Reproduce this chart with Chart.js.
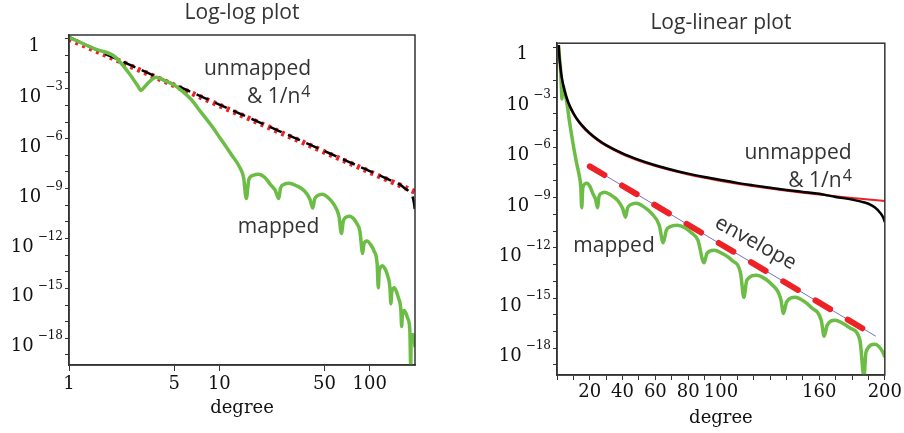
<!DOCTYPE html>
<html>
<head>
<meta charset="utf-8">
<script src="https://cdn.jsdelivr.net/npm/chart.js@4.4.1/dist/chart.umd.min.js"></script>
<style>
  html, body { margin: 0; padding: 0; background: #fff; overflow: hidden; }
  body { width: 904px; height: 433px; position: relative; }
  .panel { position: absolute; top: 0; height: 433px; }
  #leftBox { left: 0; width: 430px; }
  #rightBox { left: 450px; width: 454px; }
</style>
</head>
<body>
<div class="panel" id="leftBox"><canvas id="logLog"></canvas></div>
<div class="panel" id="rightBox"><canvas id="logLin"></canvas></div>
<script>
// Values (degree -> coefficient size)

// "unmapped" curve (black)
const unmappedDeg = [1, 1.5, 2, 2.5, 3, 4, 5, 6, 7, 8, 10, 12, 15, 20, 25, 30, 40, 50, 60, 70,
  80, 90, 100, 110, 120, 130, 140, 150, 160, 170, 180, 185, 190, 194, 197, 199, 200];
const unmappedVal = [1.32, 0.23, 0.072, 0.0292, 0.0139, 4.4e-3, 1.8e-3, 8.7e-4, 4.7e-4, 2.75e-4,
  1.12e-4, 5.4e-5, 2.22e-5, 7e-6, 2.87e-6, 1.38e-6, 4.4e-7, 1.8e-7, 8.6e-8, 4.66e-8,
  2.73e-8, 1.7e-8, 1.12e-8, 7.6e-9, 5.4e-9, 3.9e-9, 2.9e-9, 2.2e-9, 1.68e-9, 1.1e-9,
  7.6e-10, 6e-10, 4.3e-10, 2.6e-10, 1.3e-10, 6.5e-11, 3.5e-11];

// 1/n^4 reference (red)
const inv4Deg = [1, 1.5, 2, 2.5, 3, 4, 5, 6, 7, 8, 10, 12, 15, 20, 25, 30, 40, 50, 60, 70,
  80, 90, 100, 110, 120, 130, 140, 150, 160, 170, 180, 190, 200];
const inv4Val = [1, 0.198, 0.0625, 0.0256, 0.0123, 3.91e-3, 1.6e-3, 7.7e-4, 4.16e-4, 2.44e-4,
  1e-4, 4.82e-5, 1.98e-5, 6.25e-6, 2.56e-6, 1.23e-6, 3.91e-7, 1.6e-7, 7.7e-8, 4.16e-8,
  2.44e-8, 1.52e-8, 1e-8, 6.83e-9, 4.82e-9, 3.5e-9, 2.6e-9, 1.98e-9, 1.53e-9, 1.2e-9,
  9.5e-10, 7.7e-10, 6.25e-10];

// "mapped" curve (green)
const mappedDeg = [1, 1.5, 2, 2.5, 2.9, 3, 3.1, 3.4, 3.8, 4.4, 5, 5.5, 6.5, 7.5, 9, 10.1, 12,
  13.7, 14.5, 15.1, 15.7, 16.8, 18.2, 20, 21.8, 23.5, 24.8, 25.5, 27, 29.1, 33, 37, 40, 41.8,
  43, 45, 48.5, 53, 57.6, 62.4, 64.8, 66.7, 69, 73.3, 78, 82, 86, 89.7, 91.5, 95.8, 101, 106.7,
  112, 114, 115.8, 121.8, 126, 130.3, 136.4, 138.2, 140, 145.5, 150, 155, 161.2, 163,
  164.8, 169.7, 174, 178.8, 184.8, 187.3, 188.5, 193.9, 198.8, 200];
const mappedVal = [1.25, 0.24, 0.09, 8.9e-3, 1.26e-3, 7.9e-4, 1.0e-3, 2.5e-3, 4.9e-3, 2.85e-3,
  1.7e-3, 9e-4, 2.25e-4, 4.2e-5, 5e-6, 1.1e-6, 1.12e-7,
  1.8e-8, 4.5e-9, 2.5e-10, 3.5e-9, 6.3e-9, 7.2e-9, 4.8e-9, 1.8e-9, 8e-10, 2.5e-10, 1.05e-9,
  1.8e-9, 2.1e-9, 1.4e-9, 6.9e-10, 2.3e-10, 6.8e-11,
  2.3e-10, 3.8e-10, 4.6e-10, 2.8e-10, 1.17e-10, 2.2e-11, 2e-12, 1.1e-11, 1.8e-11, 2.2e-11,
  1.6e-11, 8e-12, 2.8e-12, 1.26e-13, 4.7e-13, 7.1e-13, 4.5e-13, 1.8e-13,
  3e-14, 1.1e-15, 1.15e-14, 2.3e-14, 1.6e-14, 7.6e-15, 9.8e-16, 1.2e-16, 5.6e-16, 1.1e-15,
  7e-16, 2.8e-16, 4.7e-17, 5.2e-18,
  2.3e-17, 4.7e-17, 3.2e-17, 1.6e-17, 3e-18, 2e-20, 5.8e-19, 1.7e-18, 5.8e-19, 2.9e-19];

// envelope (red dashes) and the thin guide under it
const envelopeDeg = [20, 188];
const envelopeVal = [7.4e-8, 1.23e-17];
const guideDeg = [20, 194.5];
const guideVal = [7.4e-8, 5.2e-18];

// ticks
const logLogTicksX = [1, 5, 10, 50, 100];
const logLinLabelsX = [20, 40, 60, 80, 100, 160, 200];
const decadeExps = [0, -1, -2, -3, -4, -5, -6, -7, -8, -9, -10, -11, -12, -13, -14, -15,
  -16, -17, -18, -19];
const labelExps = [0, -3, -6, -9, -12, -15, -18];

const GREEN = '#6cbd45';
const RED = '#ec2227';
const INK = '#333333';
const SERIF = '"DejaVu Serif", serif';
const SANS = '"Open Sans", sans-serif';

const pts = (xs, ys) => xs.map((x, i) => ({ x: x, y: ys[i] }));

// y labels as 10 with a raised exponent
const yLabelPlugin = {
  id: 'yLabels',
  afterDraw(chart) {
    const ctx = chart.ctx;
    const ys = chart.scales.y;
    const x0 = chart.chartArea.left;
    ctx.save();
    ctx.fillStyle = '#111';
    ctx.textBaseline = 'alphabetic';
    ctx.textAlign = 'right';
    labelExps.forEach(e => {
      const y = ys.getPixelForValue(Math.pow(10, e));
      if (e === 0) {
        ctx.font = '18px ' + SERIF;
        ctx.fillText('1', x0 - 29, y + 12);
        return;
      }
      const sup = '\u2212' + (-e);
      ctx.font = '12px ' + SERIF;
      const w = ctx.measureText(sup).width;
      ctx.fillText(sup, x0 - 6, y + 1);
      ctx.font = '18px ' + SERIF;
      ctx.fillText('10', x0 - 10 - w, y + 13);
    });
    ctx.restore();
  }
};

// box round the plot area
const framePlugin = {
  id: 'frame',
  afterDraw(chart) {
    const a = chart.chartArea;
    const ctx = chart.ctx;
    ctx.save();
    ctx.strokeStyle = INK;
    ctx.lineWidth = 1.5;
    ctx.strokeRect(a.left, a.top, a.right - a.left, a.bottom - a.top);
    ctx.restore();
  }
};

// curve names written in the plot
const notesPlugin = {
  id: 'notes',
  afterDraw(chart, args, opts) {
    const ctx = chart.ctx;
    ctx.save();
    ctx.fillStyle = INK;
    (opts.items || []).forEach(it => {
      ctx.save();
      ctx.translate(it.x, it.y);
      if (it.angle) ctx.rotate(it.angle * Math.PI / 180);
      ctx.font = '21px ' + SANS;
      ctx.textAlign = it.align || 'left';
      ctx.textBaseline = it.baseline || 'alphabetic';
      ctx.fillText(it.text, 0, 0);
      if (it.sup) {
        const w = ctx.measureText(it.text).width;
        ctx.font = '16px ' + SANS;
        ctx.textAlign = 'left';
        ctx.fillText(it.sup, w + 1, -6);
      }
      ctx.restore();
    });
    ctx.restore();
  }
};

function yAxis(width) {
  return {
    type: 'logarithmic',
    min: 2.5e-20,
    max: 1.7,
    afterBuildTicks: s => { s.ticks = decadeExps.map(e => ({ value: Math.pow(10, e) })); },
    afterFit: s => { s.width = width; },
    ticks: { display: false },
    grid: { drawOnChartArea: false, tickLength: 4, color: INK, tickWidth: 1 },
    border: { color: INK, width: 1.5 }
  };
}

function titleOpts(text, top, bottom) {
  return {
    display: true,
    text: text,
    fullSize: false,
    color: INK,
    font: { family: SANS, size: 21, weight: 'normal' },
    padding: { top: top, bottom: bottom }
  };
}

const line = (data, color, width, extra) => Object.assign({
  data: data,
  borderColor: color,
  backgroundColor: color,
  borderWidth: width,
  pointRadius: 0,
  fill: false,
  cubicInterpolationMode: 'monotone'
}, extra || {});

// Left: log-log plot
new Chart(document.getElementById('logLog'), {
  type: 'line',
  data: {
    datasets: [
      line(pts(mappedDeg, mappedVal), GREEN, 3.5, { order: 0 }),
      line(pts(unmappedDeg, unmappedVal), '#000', 2.5, { order: 1, borderDash: [13, 7] }),
      line(pts(inv4Deg, inv4Val), RED, 5.5, { order: 2, borderDash: [3, 4.5] })
    ]
  },
  options: {
    responsive: true,
    maintainAspectRatio: false,
    animation: false,
    layout: { padding: { left: 0, right: 15, top: 0, bottom: 0 } },
    plugins: {
      legend: { display: false },
      tooltip: { enabled: false },
      title: titleOpts('Log-log plot', 0, 9.8),
      notes: {
        items: [
          { text: 'unmapped', x: 257.5, y: 75, align: 'center' },
          { text: '& 1/n', sup: '4', x: 247, y: 102.5 },
          { text: 'mapped', x: 278.5, y: 233, align: 'center' }
        ]
      }
    },
    scales: {
      x: {
        type: 'logarithmic',
        min: 1,
        max: 200,
        afterBuildTicks: s => { s.ticks = logLogTicksX.map(v => ({ value: v })); },
        afterFit: s => { s.height = 68; },
        ticks: {
          autoSkip: false,
          maxRotation: 0,
          padding: 2.5,
          color: '#111',
          font: { family: SERIF, size: 18 },
          callback: v => String(v)
        },
        grid: { drawOnChartArea: false, tickLength: 6, color: INK },
        border: { color: INK, width: 1.5 },
        title: {
          display: true,
          text: 'degree',
          color: '#111',
          font: { family: SERIF, size: 18 },
          padding: { top: 0, bottom: 14 }
        }
      },
      y: yAxis(69)
    }
  },
  plugins: [yLabelPlugin, framePlugin, notesPlugin]
});

// Right: log-linear plot
new Chart(document.getElementById('logLin'), {
  type: 'line',
  data: {
    datasets: [
      line(pts(unmappedDeg, unmappedVal), '#000', 2.5, { order: 0 }),
      line(pts(inv4Deg, inv4Val), RED, 2, { order: 1 }),
      line(pts(mappedDeg, mappedVal), GREEN, 3.5, { order: 2 }),
      line(pts(envelopeDeg, envelopeVal), RED, 6, { order: 3, borderDash: [17, 20.5], borderCapStyle: 'round' }),
      line(pts(guideDeg, guideVal), '#7d6fc4', 1, { order: 4 })
    ]
  },
  options: {
    responsive: true,
    maintainAspectRatio: false,
    animation: false,
    layout: { padding: { left: 0, right: 16, top: 0, bottom: 0 } },
    plugins: {
      legend: { display: false },
      tooltip: { enabled: false },
      title: titleOpts('Log-linear plot', 10, 8),
      notes: {
        items: [
          { text: 'unmapped', x: 348, y: 158.5, align: 'center' },
          { text: '& 1/n', sup: '4', x: 338.3, y: 187 },
          { text: 'mapped', x: 164, y: 251.7, align: 'center' },
          { text: 'envelope', x: 305.5, y: 243, align: 'center', baseline: 'middle', angle: 29 }
        ]
      }
    },
    scales: {
      x: {
        type: 'linear',
        min: 0,
        max: 200,
        afterFit: s => { s.height = 58; },
        ticks: {
          stepSize: 10,
          autoSkip: false,
          maxRotation: 0,
          padding: 2,
          color: '#111',
          font: { family: SERIF, size: 18 },
          callback: v => (logLinLabelsX.includes(v) ? String(v) : '')
        },
        grid: { drawOnChartArea: false, tickLength: 5, color: INK },
        border: { color: INK, width: 1.5 },
        title: {
          display: true,
          text: 'degree',
          color: '#111',
          font: { family: SERIF, size: 18 },
          padding: { top: 0, bottom: 4 }
        }
      },
      y: yAxis(107)
    }
  },
  plugins: [yLabelPlugin, framePlugin, notesPlugin]
});
</script>
</body>
</html>
